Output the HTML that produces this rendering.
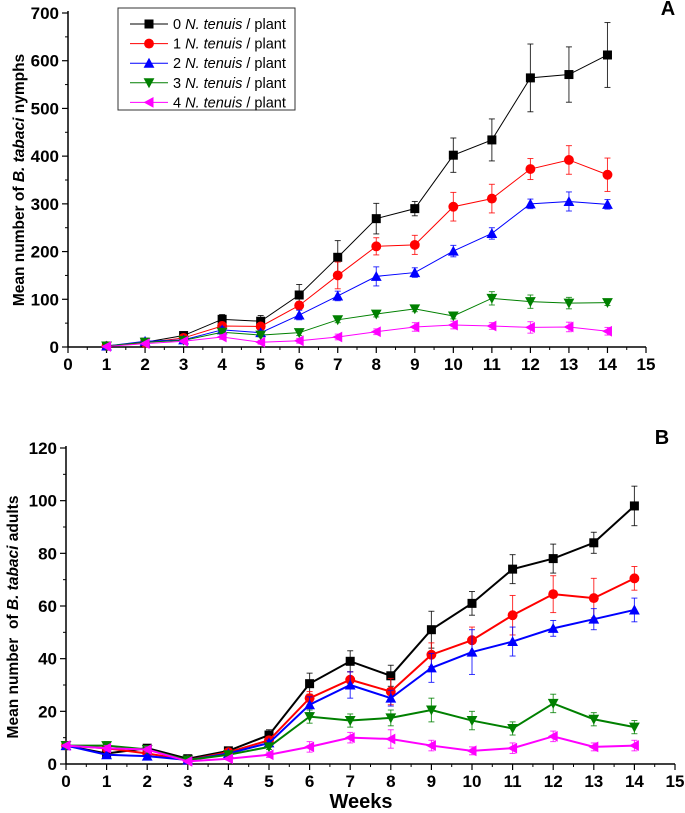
<!DOCTYPE html>
<html><head><meta charset="utf-8"><style>
html,body{margin:0;padding:0;background:#fff;}
svg{display:block;font-family:"Liberation Sans",Arial,sans-serif;}
</style></head><body>
<svg id="chart" width="685" height="813" viewBox="0 0 685 813"></svg>
<script>
const weeks = [0,1,2,3,4,5,6,7,8,9,10,11,12,13,14];
const seriesNames = ["0","1","2","3","4"];
const colors = ["#000000","#ff0000","#0000ff","#008000","#ff00ff"];
// Chart A (nymphs), weeks 1..14
const nymph0 = [2,10,24,58,54,109,188,269,290,402,434,564,571,612];
const nymph1 = [2,9,19,44,43,87,150,211,214,294,311,373,392,361];
const nymph2 = [2,12,15,36,30,67,107,148,156,201,238,300,305,299];
const nymph3 = [2,10,14,31,25,30,57,69,80,65,102,95,92,93];
const nymph4 = [1,7,12,21,10,13,21,32,42,46,44,41,42,33];
const nymphErr0 = [1,3,4,10,12,22,35,32,15,36,44,71,58,68];
const nymphErr1 = [1,2,3,8,6,8,28,18,20,30,30,22,30,35];
const nymphErr2 = [1,3,3,6,5,10,10,20,10,12,12,10,20,10];
const nymphErr3 = [1,2,3,5,4,6,6,6,6,6,14,14,12,6];
const nymphErr4 = [1,2,3,5,4,5,6,6,9,8,7,12,10,8];
// Chart B (adults), weeks 0..14
const adult0 = [7,4,6,2,5,11,30.5,39,33.5,51,61,74,78,84,98];
const adult1 = [7,6,4,1.5,4.5,9,25,32,27.5,41.5,47,56.5,64.5,63,70.5];
const adult2 = [7,3.5,3,1.5,4,8,22.5,30,25,36.5,42.5,46.5,51.5,55,58.5];
const adult3 = [7,7,5.5,1.5,3.5,6.5,18,16.5,17.5,20.5,16.5,13.5,23,17,14];
const adult4 = [7,6,5.5,1,2,3.5,6.5,10,9.5,7,5,6,10.5,6.5,7];
const adultErr0 = [0.5,0.5,0.8,0.5,1,2,4,4,4,7,4.5,5.5,5.5,4,7.5];
const adultErr1 = [0.5,1,1,0.5,1,1,2.5,3,5,4.5,5,7.5,7,7.5,4.5];
const adultErr2 = [0.5,0.5,0.5,0.5,0.5,1,3,5,3,5.5,8.5,5.5,3,4,4.5];
const adultErr3 = [0.5,1.5,1,0.5,0.5,1,2.5,2.5,3,4.5,3.5,2.5,3.5,2.5,2.5];
const adultErr4 = [0.5,1,1,0.5,0.5,1,2,2,3.5,2,1.5,2,2,1.5,2];
const xTicks = [0,1,2,3,4,5,6,7,8,9,10,11,12,13,14,15];
const yTicksA = [0,100,200,300,400,500,600,700];
const yTicksB = [0,20,40,60,80,100,120];

const NS="http://www.w3.org/2000/svg";
const svg=document.getElementById('chart');
function mk(tag,attrs,parent){const e=document.createElementNS(NS,tag);for(const k in attrs)e.setAttribute(k,attrs[k]);(parent||svg).appendChild(e);return e;}

function marker(g,i,x,y,s){
  const c=colors[i];let e;
  if(i===0){e=mk('rect',{x:x-s,y:y-s,width:2*s,height:2*s,fill:c},g);}
  else if(i===1){e=mk('circle',{cx:x,cy:y,r:s*1.1,fill:c},g);}
  else if(i===2){e=mk('polygon',{points:`${x},${y-s*1.2} ${x-s*1.2},${y+s} ${x+s*1.2},${y+s}`,fill:c},g);}
  else if(i===3){e=mk('polygon',{points:`${x},${y+s*1.2} ${x-s*1.2},${y-s} ${x+s*1.2},${y-s}`,fill:c},g);}
  else {e=mk('polygon',{points:`${x-s*1.2},${y} ${x+s},${y-s*1.2} ${x+s},${y+s*1.2}`,fill:c},g);}
  
  
}

function drawChart(cfg){
  const {x0,x15,y0,yTop,yMax,yTicks,data,errs,xs,lw,ms,name}=cfg;
  const sx=v=>x0+(x15-x0)*v/15;
  const sy=v=>y0-(y0-yTop)*v/yMax;
  const g=mk('g',{});
  
  
  mk('line',{x1:x0,y1:yTop-2,x2:x0,y2:y0,stroke:'#000','stroke-width':1.5},g);
  mk('line',{x1:x0,y1:y0,x2:x15,y2:y0,stroke:'#000','stroke-width':1.5},g);
  xTicks.forEach(t=>{
    mk('line',{x1:sx(t),y1:y0,x2:sx(t),y2:y0+6,stroke:'#000','stroke-width':1.2},g);
    if(t<15)mk('line',{x1:sx(t+0.5),y1:y0,x2:sx(t+0.5),y2:y0+3,stroke:'#000','stroke-width':1},g);
    const tx=mk('text',{x:sx(t),y:y0+23,'text-anchor':'middle','font-size':17,'font-weight':'bold'},g);
    tx.textContent=t;
  });
  const step=yTicks[1]-yTicks[0];
  yTicks.forEach(t=>{
    mk('line',{x1:x0-6,y1:sy(t),x2:x0,y2:sy(t),stroke:'#000','stroke-width':1.2},g);
    if(t<yMax)mk('line',{x1:x0-3,y1:sy(t+step/2),x2:x0,y2:sy(t+step/2),stroke:'#000','stroke-width':1},g);
    const tx=mk('text',{x:x0-9,y:sy(t)+6,'text-anchor':'end','font-size':17,'font-weight':'bold'},g);
    tx.textContent=t;
  });
  data.forEach((arr,i)=>{
    const c=colors[i];
    const sg=mk('g',{},g);
    
    
    arr.forEach((v,j)=>{
      const x=sx(xs[j]),y=sy(v),yh=sy(v+errs[i][j]),yl=sy(Math.max(0,v-errs[i][j]));
      mk('line',{x1:x,y1:yh,x2:x,y2:yl,stroke:c,'stroke-width':1,opacity:0.8},sg);
      mk('line',{x1:x-3,y1:yh,x2:x+3,y2:yh,stroke:c,'stroke-width':1,opacity:0.8},sg);
      mk('line',{x1:x-3,y1:yl,x2:x+3,y2:yl,stroke:c,'stroke-width':1,opacity:0.8},sg);
    });
    mk('polyline',{points:arr.map((v,j)=>sx(xs[j])+','+sy(v)).join(' '),fill:'none',stroke:c,'stroke-width':lw},sg);
    arr.forEach((v,j)=>marker(sg,i,sx(xs[j]),sy(v),ms));
  });
}

drawChart({name:'chart-a-nymphs',x0:68,x15:646,y0:347,yTop:13,yMax:700,yTicks:yTicksA,
  data:[nymph0,nymph1,nymph2,nymph3,nymph4],errs:[nymphErr0,nymphErr1,nymphErr2,nymphErr3,nymphErr4],
  xs:weeks.slice(1),lw:1,ms:4.5});
drawChart({name:'chart-b-adults',x0:66,x15:675,y0:764,yTop:448,yMax:120,yTicks:yTicksB,
  data:[adult0,adult1,adult2,adult3,adult4],errs:[adultErr0,adultErr1,adultErr2,adultErr3,adultErr4],
  xs:weeks,lw:2,ms:4.5});

const lg=mk('g',{});


mk('rect',{x:118,y:8,width:177,height:102,fill:'#fff',stroke:'#333','stroke-width':1},lg);
seriesNames.forEach((n,i)=>{
  const y=24+i*19.6;
  const e=mk('g',{},lg);
  
  
  mk('line',{x1:130,y1:y,x2:168,y2:y,stroke:colors[i],'stroke-width':1},e);
  marker(e,i,149,y,4.5);
  const t=mk('text',{x:173,y:y+5,'font-size':14.5},e);
  t.innerHTML=n+' <tspan font-style="italic">N. tenuis</tspan> / plant';
});

let t=mk('text',{transform:'translate(24,180) rotate(-90)','text-anchor':'middle','font-size':15.5,'font-weight':'bold'});


t.innerHTML='Mean number of <tspan font-style="italic">B. tabaci</tspan> nymphs';
t=mk('text',{transform:'translate(18,617) rotate(-90)','text-anchor':'middle','font-size':15.5,'font-weight':'bold'});


t.innerHTML='Mean number&#160; of <tspan font-style="italic">B. tabaci</tspan> adults';
t=mk('text',{x:361,y:808,'text-anchor':'middle','font-size':20,'font-weight':'bold'});


t.textContent='Weeks';
t=mk('text',{x:668,y:15,'text-anchor':'middle','font-size':20,'font-weight':'bold'});


t.textContent='A';
t=mk('text',{x:662,y:444,'text-anchor':'middle','font-size':20,'font-weight':'bold'});


t.textContent='B';
</script>
</body></html>
